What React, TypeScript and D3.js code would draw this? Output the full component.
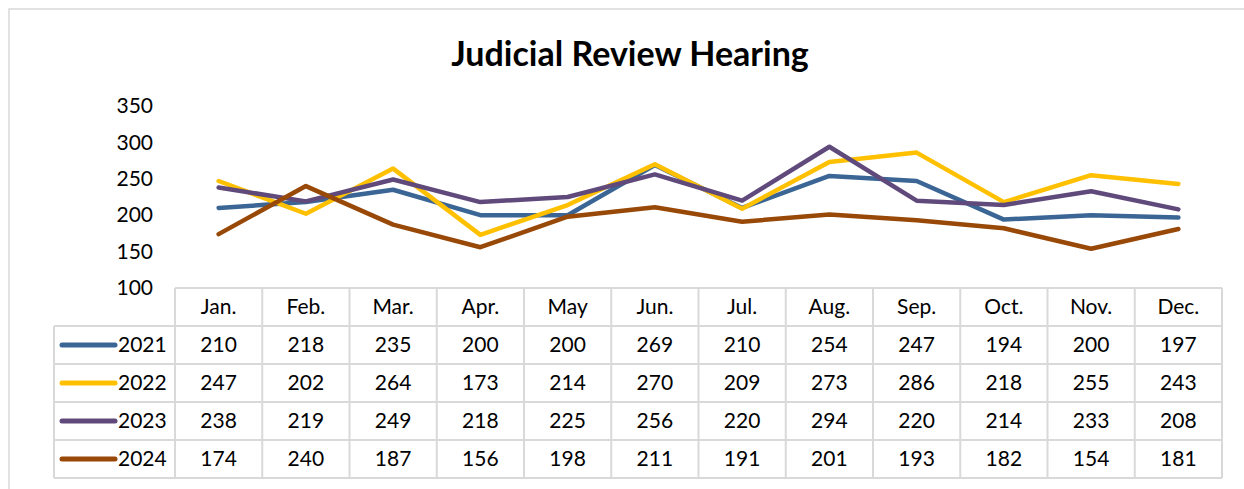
import React, { useEffect, useRef } from 'react';
import * as d3 from 'd3';

const months = ['Jan.', 'Feb.', 'Mar.', 'Apr.', 'May', 'Jun.', 'Jul.', 'Aug.', 'Sep.', 'Oct.', 'Nov.', 'Dec.'];
const years = ['2021', '2022', '2023', '2024'];
const values2021 = [210, 218, 235, 200, 200, 269, 210, 254, 247, 194, 200, 197];
const values2022 = [247, 202, 264, 173, 214, 270, 209, 273, 286, 218, 255, 243];
const values2023 = [238, 219, 249, 218, 225, 256, 220, 294, 220, 214, 233, 208];
const values2024 = [174, 240, 187, 156, 198, 211, 191, 201, 193, 182, 154, 181];
const yTicks = [100, 150, 200, 250, 300, 350];

const seriesValues = [values2021, values2022, values2023, values2024];
const colors = ['#3a6595', '#ffc000', '#604a7b', '#984807'];

function App() {
    const chart = useRef<SVGSVGElement>(null);

    useEffect(() => {
        const svg = d3.select(chart.current);
        svg.selectAll('*').remove();

        const font = 'Lato, "Open Sans", sans-serif';
        const gridColor = '#d9d9d9';

        // chart area border (runs off the right and bottom of the picture)
        svg.append('rect')
            .attr('x', 9).attr('y', 9)
            .attr('width', 1260).attr('height', 500)
            .attr('fill', 'white')
            .attr('stroke', gridColor)
            .attr('stroke-width', 1.5);

        svg.append('text')
            .attr('x', 630)
            .attr('y', 66)
            .attr('text-anchor', 'middle')
            .style('font-family', font)
            .style('font-weight', 'bold')
            .style('font-size', '34px')
            .attr('fill', '#000')
            .text('Judicial Review Hearing');

        const x = d3.scaleBand().domain(months).range([175, 1222]);
        const y = d3.scaleLinear().domain([100, 350]).range([288, 106]);
        const rows = d3.scaleBand().domain(['header', ...years]).range([288, 478]);

        // y axis labels
        const yAxis = svg.append('g')
            .attr('transform', 'translate(153,0)')
            .call(d3.axisLeft(y).tickValues(yTicks).tickSize(0).tickPadding(0));
        yAxis.select('.domain').remove();
        yAxis.selectAll('text')
            .style('font-family', font)
            .style('font-size', '21px')
            .attr('fill', '#000');

        // data table grid
        const grid = svg.append('g')
            .attr('stroke', gridColor)
            .attr('stroke-width', 2)
            .attr('fill', 'none');

        const rowEdges = [rows('header')!, ...years.map(yr => rows(yr)!), rows.range()[1]];
        rowEdges.forEach((ry, i) => {
            grid.append('line')
                .attr('x1', i === 0 ? x.range()[0] : 54)
                .attr('x2', x.range()[1])
                .attr('y1', ry).attr('y2', ry);
        });
        const colEdges = [...months.map(m => x(m)!), x.range()[1]];
        colEdges.forEach(cx => {
            grid.append('line')
                .attr('x1', cx).attr('x2', cx)
                .attr('y1', rows('header')!).attr('y2', rows.range()[1]);
        });
        grid.append('line')
            .attr('x1', 54).attr('x2', 54)
            .attr('y1', rows(years[0])!).attr('y2', rows.range()[1]);

        const half = x.bandwidth() / 2;
        const rh = rows.bandwidth() / 2;

        svg.append('g')
            .selectAll('text')
            .data(months)
            .join('text')
                .attr('x', d => x(d)! + half)
                .attr('y', rows('header')! + rh - 2)
                .attr('text-anchor', 'middle')
                .attr('dominant-baseline', 'central')
                .style('font-family', font)
                .style('font-size', '21px')
                .text(d => d);

        years.forEach((yr, si) => {
            const cy = rows(yr)! + rh;
            const g = svg.append('g');
            g.append('line')
                .attr('x1', 62).attr('x2', 115)
                .attr('y1', cy).attr('y2', cy)
                .attr('stroke', colors[si])
                .attr('stroke-width', 5)
                .attr('stroke-linecap', 'round');
            g.append('text')
                .attr('x', 118)
                .attr('y', cy - 2)
                .attr('dominant-baseline', 'central')
                .style('font-family', font)
                .style('font-size', '21px')
                .text(yr);
            g.selectAll('text.val')
                .data(seriesValues[si])
                .join('text')
                    .attr('class', 'val')
                    .attr('x', (d, i) => x(months[i])! + half)
                    .attr('y', cy - 2)
                    .attr('text-anchor', 'middle')
                    .attr('dominant-baseline', 'central')
                    .style('font-family', font)
                    .style('font-size', '21px')
                    .text(d => d);
        });

        // lines
        const line = d3.line<number>()
            .x((d, i) => x(months[i])! + half)
            .y(d => y(d));

        svg.append('g')
            .selectAll('path')
            .data(seriesValues)
            .join('path')
                .attr('d', d => line(d))
                .attr('fill', 'none')
                .attr('stroke', (d, i) => colors[i])
                .attr('stroke-width', 4.5)
                .attr('stroke-linejoin', 'round')
                .attr('stroke-linecap', 'round');
    }, []);

    return (
        <svg ref={chart} width={1244} height={489}
            style={{ position: 'absolute', left: 0, top: 0, background: 'white' }}></svg>
    );
}

export default App;
